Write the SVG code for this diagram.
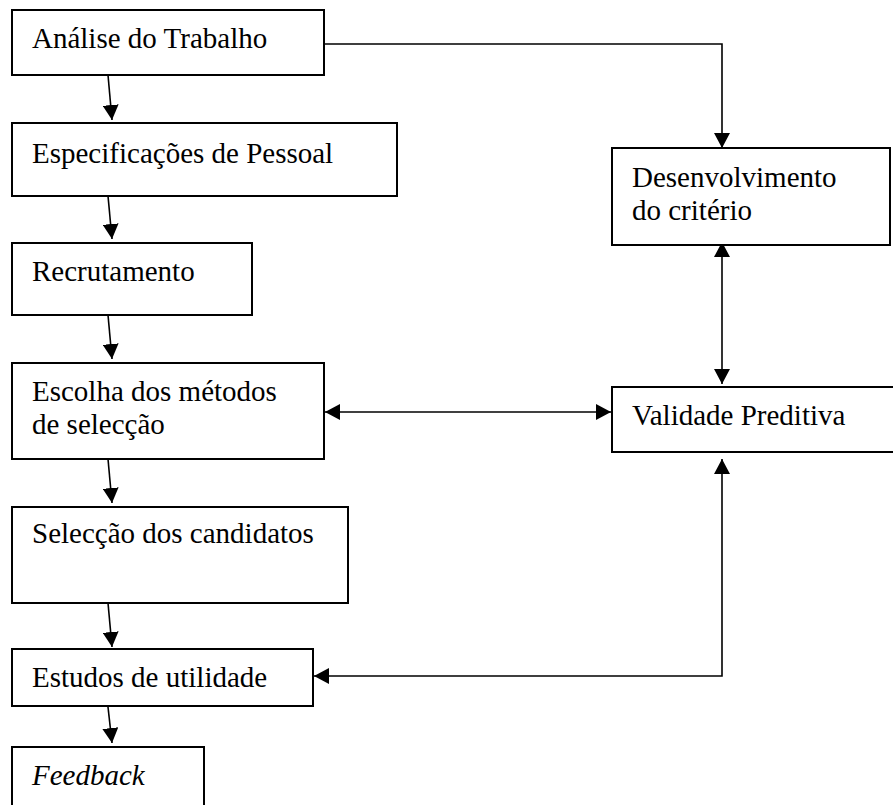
<svg xmlns="http://www.w3.org/2000/svg" width="893" height="805" viewBox="0 0 893 805">
<style>
.box{fill:#fff;stroke:#000;stroke-width:2}
.t{font-family:"Liberation Serif","Times New Roman",serif;font-size:29px;fill:#000}
.i{font-style:italic}
.c{fill:none;stroke:#000;stroke-width:1.6}
</style>
<defs>
<marker id="ah" viewBox="0 0 15 16" refX="15" refY="8" markerWidth="15" markerHeight="16" markerUnits="userSpaceOnUse" orient="auto-start-reverse">
<path d="M0,0 L15,8 L0,16 z" fill="#000"/>
</marker>
</defs>
<rect width="893" height="805" fill="#fff"/>
<g id="connectors">
<line class="c" x1="108" y1="75" x2="112" y2="120" marker-end="url(#ah)"/>
<line class="c" x1="108" y1="196" x2="112" y2="239" marker-end="url(#ah)"/>
<line class="c" x1="108" y1="315" x2="112" y2="359" marker-end="url(#ah)"/>
<line class="c" x1="108" y1="459" x2="112" y2="503" marker-end="url(#ah)"/>
<line class="c" x1="108" y1="603" x2="112" y2="647" marker-end="url(#ah)"/>
<line class="c" x1="107" y1="698" x2="112" y2="743" marker-end="url(#ah)"/>
<path class="c" d="M324,44 H722 V148" marker-end="url(#ah)"/>
<line class="c" x1="722" y1="242" x2="722" y2="384" marker-start="url(#ah)" marker-end="url(#ah)"/>
<line class="c" x1="325" y1="412" x2="611" y2="412" marker-start="url(#ah)" marker-end="url(#ah)"/>
<path class="c" d="M314,676 H722 V459" marker-start="url(#ah)" marker-end="url(#ah)"/>
</g>
<g id="analise">
<rect class="box" x="12" y="10" width="312" height="65"/>
<text class="t" x="32" y="48">Análise do Trabalho</text>
</g>
<g id="especificacoes">
<rect class="box" x="12" y="123" width="385" height="73"/>
<text class="t" x="32" y="163">Especificações de Pessoal</text>
</g>
<g id="recrutamento">
<rect class="box" x="12" y="243" width="240" height="72"/>
<text class="t" x="32" y="281">Recrutamento</text>
</g>
<g id="escolha">
<rect class="box" x="12" y="363" width="312" height="96"/>
<text class="t" x="32" y="401">Escolha dos métodos</text>
<text class="t" x="32" y="434">de selecção</text>
</g>
<g id="seleccao">
<rect class="box" x="12" y="507" width="336" height="96"/>
<text class="t" x="32" y="543">Selecção dos candidatos</text>
</g>
<g id="estudos">
<rect class="box" x="12" y="649" width="301" height="57"/>
<text class="t" x="32" y="687">Estudos de utilidade</text>
</g>
<g id="feedback">
<rect class="box" x="12" y="747" width="192" height="80"/>
<text class="t i" x="32" y="785">Feedback</text>
</g>
<g id="desenvolvimento">
<rect class="box" x="612" y="148" width="278" height="97"/>
<text class="t" x="632" y="187">Desenvolvimento</text>
<text class="t" x="632" y="220">do critério</text>
</g>
<g id="validade">
<rect class="box" x="612" y="387" width="300" height="65"/>
<text class="t" x="632" y="425">Validade Preditiva</text>
</g>
</svg>
